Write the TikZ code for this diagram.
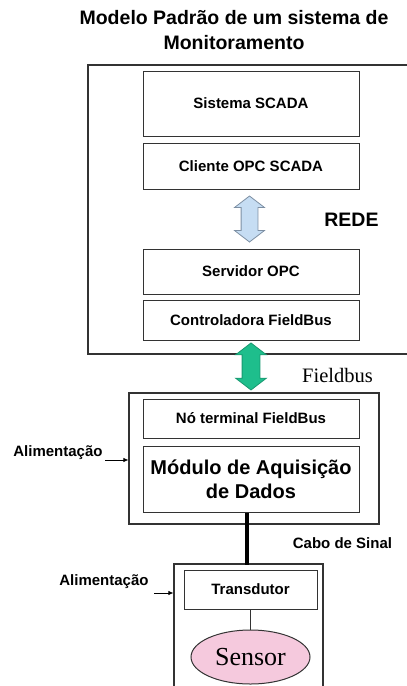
\documentclass[tikz,border=0pt]{standalone}
\usepackage{fontspec}
\setmainfont{Liberation Sans}
\newfontfamily\serifface{Liberation Serif}
\usetikzlibrary{shapes.geometric,shapes.arrows,arrows.meta,calc}
\definecolor{boxline}{HTML}{333333}
\definecolor{redeblue}{HTML}{C6DDF3}
\definecolor{blueedge}{HTML}{7D8FA3}
\definecolor{fbgreen}{HTML}{1EBE8C}
\definecolor{sensorpink}{HTML}{F5C9DD}
\begin{document}
\begin{tikzpicture}[x=1pt,y=-1pt,
  box/.style={draw=boxline, line width=1pt, rectangle, inner sep=0pt, align=center,
    font=\bfseries\fontsize{15}{18}\selectfont},
  frame/.style={draw=boxline, line width=1.1pt, rectangle, inner sep=0pt},
  lbl/.style={inner sep=0pt, font=\bfseries\fontsize{15}{18}\selectfont},
  blockarrow/.style={double arrow, rotate=90, inner xsep=0pt, line width=0.8pt,
    double arrow head extend=6.5pt, double arrow tip angle=105}]
\useasboundingbox (0,0) rectangle (407,686);
\clip (0,0) rectangle (407,686);

% title
\node[inner sep=0pt, align=center, font=\bfseries\fontsize{19.5}{25}\selectfont] (title) at (234,30.5)
  {Modelo Padrão de um sistema de\\Monitoramento};

% network block
\node[frame, minimum width=322pt, minimum height=289pt] (net) at (249,209.5) {};
\node[box, minimum width=216pt, minimum height=65pt] (scada) at (251,103.5) {Sistema SCADA};
\node[box, minimum width=216pt, minimum height=46pt] (cli) at (251,166) {Cliente OPC SCADA};
\node[box, minimum width=216pt, minimum height=45pt] (srv) at (251,271.5) {Servidor OPC};
\node[box, minimum width=216pt, minimum height=40pt] (ctrl) at (251,320) {Controladora FieldBus};
\node[inner sep=0pt, font=\bfseries\fontsize{19.5}{22}\selectfont] (rede) at (351.5,220) {REDE};

% acquisition block
\node[frame, minimum width=250pt, minimum height=131pt] (dam) at (254,458.5) {};
\node[box, minimum width=216pt, minimum height=39pt] (fbn) at (251,418.5) {Nó terminal FieldBus};
\node[box, minimum width=216pt, minimum height=66pt, font=\bfseries\fontsize{20}{24}\selectfont] (mod) at (251,479)
  {Módulo de Aquisição\\de Dados};

% transducer block
\node[frame, minimum width=149pt, minimum height=136pt] (trout) at (248.5,632) {};
\node[box, minimum width=133pt, minimum height=39pt] (trd) at (250.5,589.5) {Transdutor};
\node[ellipse, draw=boxline, line width=1pt, fill=sensorpink, minimum width=119pt, minimum height=54pt,
  inner sep=0pt, font=\serifface\fontsize{26}{28}\selectfont] (sensor) at (250.5,657) {Sensor};

% labels
\node[inner sep=0pt, font=\serifface\fontsize{20.5}{24}\selectfont] (fbus) at (337.5,375) {Fieldbus};
\node[lbl] (cabo) at (342.5,543) {Cabo de Sinal};
\node[lbl] (alim1) at (58,453) {Alimentação};
\node[lbl] (alim2) at (104,582) {Alimentação};

% block arrows
\node[blockarrow, draw=blueedge, fill=redeblue, inner ysep=8pt, minimum height=46pt]
  (redearrow) at ($(cli.south)!0.5!(srv.north) + (-1.5,0)$) {};
\node[blockarrow, draw=fbgreen!80!black, fill=fbgreen, inner ysep=8.5pt, minimum height=47pt]
  (fbarrow) at ($(ctrl.south)!0.5!(dam.north) + (-1.5,0)$) {};

% connectors
\draw[line width=4.5pt, black] ([xshift=-4pt]mod.south) -- ([xshift=-4pt,yshift=5pt]mod.south |- trd.north);
\draw[line width=0.8pt, boxline] (trd.south) -- (sensor.north);
\coordinate (a1s) at (105,460);
\coordinate (a2s) at (154,593);
\draw[line width=0.8pt, -{Latex[length=5pt,width=4.5pt]}] (a1s) -- (a1s -| dam.west);
\draw[line width=0.8pt, -{Latex[length=5pt,width=4.5pt]}] (a2s) -- (a2s -| trout.west);
\end{tikzpicture}
\end{document}
